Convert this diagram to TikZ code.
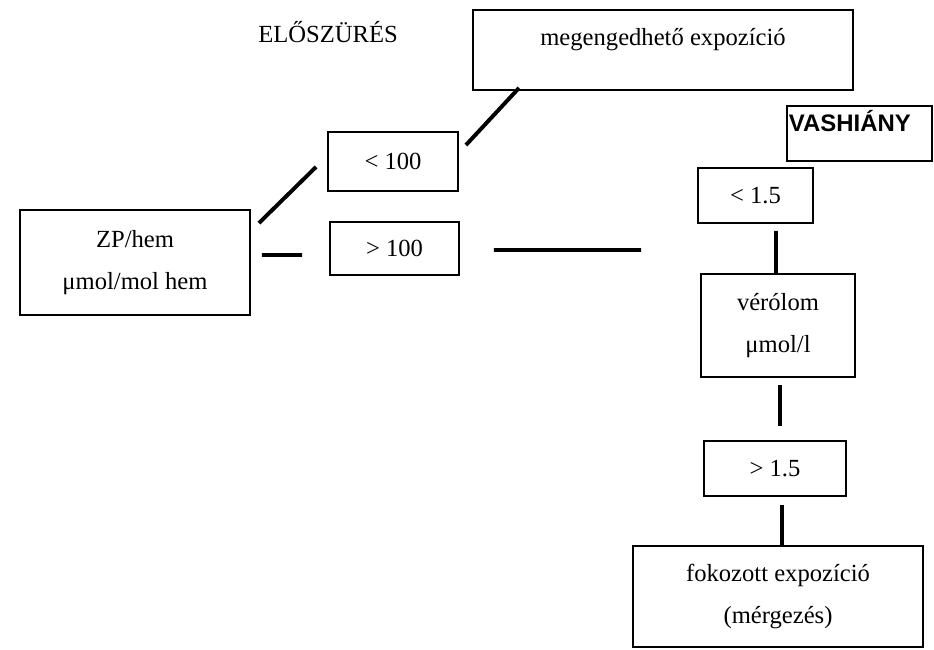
\documentclass[tikz,border=0pt]{standalone}
\usepackage{fontspec}
\setmainfont{Liberation Serif}
\newfontfamily\headfont{Liberation Sans}
\usetikzlibrary{calc}

\begin{document}
\begin{tikzpicture}[
    x=0.025cm, y=-0.025cm,
    box/.style={rectangle, draw=black, line width=1.3pt, inner sep=0pt, align=center, font=\fontsize{17.5}{30}\selectfont},
    tag/.style={inner sep=0pt, font=\fontsize{17.5}{30}\selectfont},
    link/.style={line width=2.8pt, draw=black}
]
    \useasboundingbox (0,0) rectangle (934,650);

    % Screening
    \node[tag, anchor=base] (elo) at (328,43) {ELŐSZÜRÉS};
    \node[box, minimum width=5.75cm, minimum height=2.625cm] (zp) at (135,262.5) {ZP/hem\\μmol/mol hem};
    \node[box, minimum width=3.25cm, minimum height=1.475cm] (lt100) at (393,161.5) {< 100};
    \node[box, minimum width=3.225cm, minimum height=1.325cm] (gt100) at (394.5,248.5) {> 100};
    \node[box, minimum width=9.5cm, text height=0.9cm, text depth=1.1cm] (meg) at (663,50) {megengedhető expozíció};

    % Iron deficiency branch
    \node[box, inner xsep=0.05cm, text width=3.525cm, align=left, text height=0.65cm, text depth=0.725cm,
          font=\fontsize{17}{20}\selectfont\headfont\bfseries] (vas) at (859.5,133.5) {VASHIÁNY};
    \node[box, minimum width=2.875cm, minimum height=1.375cm] (lt15) at (755.5,195.5) {< 1.5};
    \node[box, minimum width=3.85cm, minimum height=2.575cm] (vero) at (778,325.5) {vérólom\\μmol/l};
    \node[box, minimum width=3.55cm, minimum height=1.375cm] (gt15) at (775,468.5) {> 1.5};
    \node[box, minimum width=7.25cm, minimum height=2.525cm] (fok) at (778,596.5) {fokozott expozíció\\(mérgezés)};
    \coordinate (iron) at (641,250);

    % Lines
    \draw[link] ($(zp.north east)+(8,14)$) -- ($(lt100.south west)+(-11,-25)$);
    \draw[link] ($(zp.east)+(11,-7.5)$) -- ($(gt100.west)+(-27,6.5)$);
    \draw[link] ($(lt100.north east)+(7,14)$) -- ($(meg.south west)+(47,-3)$);
    \draw[link] ($(gt100.east)+(34,1.5)$) -- (iron);
    \draw[link] ($(lt15.south)+(20.5,7)$) -- ($(vero.north)+(-2,0)$);
    \draw[link] ($(vero.south)+(2,7)$) -- ($(gt15.north)+(5,-14)$);
    \draw[link] ($(gt15.south)+(7,8)$) -- ($(fok.north)+(4,0)$);
\end{tikzpicture}
\end{document}
